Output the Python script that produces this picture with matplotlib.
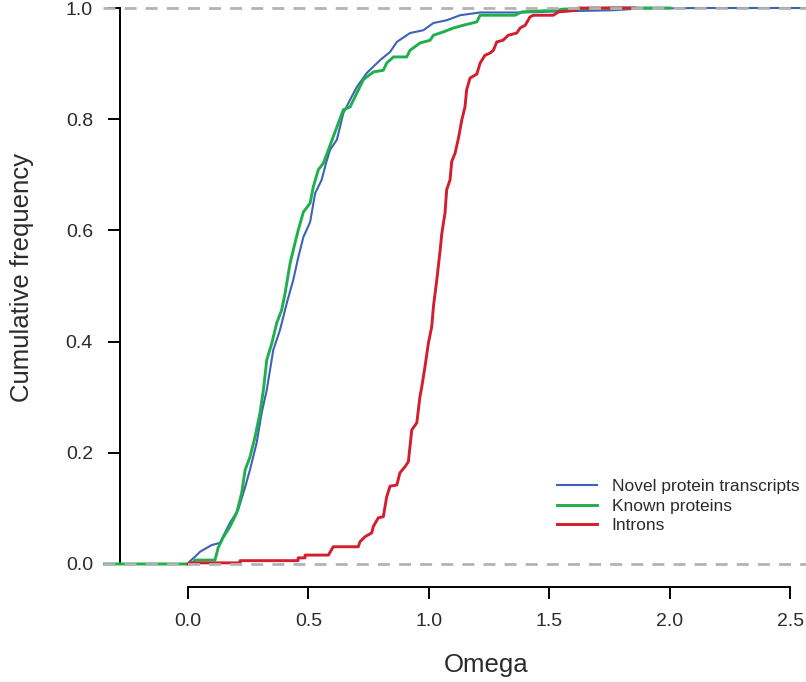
import matplotlib

matplotlib.use("Agg")

import matplotlib.pyplot as plt

plt.rcParams["font.family"] = ["Liberation Sans", "DejaVu Sans"]

# cumulative frequency curves of omega, (omega, fraction) knots along each curve
novel_omega = [-0.36, 0.0, 0.008, 0.029, 0.050, 0.098, 0.133, 0.145, 0.174, 0.208, 0.237,
               0.257, 0.285, 0.306, 0.327, 0.354, 0.382, 0.410, 0.437, 0.458, 0.479,
               0.507, 0.528, 0.555, 0.573, 0.590, 0.618, 0.645, 0.673, 0.701, 0.742,
               0.797, 0.839, 0.867, 0.922, 0.977, 1.019, 1.074, 1.130, 1.213, 1.391,
               1.545, 1.765, 1.877, 2.126, 2.60]
novel_freq = [0.0, 0.0, 0.005, 0.013, 0.022, 0.034, 0.038, 0.049, 0.074, 0.097, 0.138,
              0.169, 0.218, 0.272, 0.313, 0.385, 0.421, 0.469, 0.511, 0.552, 0.588,
              0.615, 0.667, 0.691, 0.721, 0.745, 0.763, 0.811, 0.835, 0.858, 0.883,
              0.906, 0.921, 0.939, 0.955, 0.960, 0.973, 0.978, 0.987, 0.992, 0.992,
              0.994, 0.996, 0.999, 1.0, 1.0]

known_omega = [-0.36, 0.0, 0.021, 0.029, 0.112, 0.125, 0.145, 0.174, 0.202, 0.223, 0.237,
               0.257, 0.278, 0.299, 0.313, 0.327, 0.348, 0.368, 0.389, 0.403, 0.424,
               0.444, 0.458, 0.479, 0.507, 0.520, 0.541, 0.562, 0.583, 0.618, 0.645,
               0.673, 0.701, 0.728, 0.742, 0.770, 0.811, 0.825, 0.853, 0.908, 0.922,
               0.963, 1.005, 1.019, 1.060, 1.102, 1.143, 1.199, 1.213, 1.358, 1.386,
               1.531, 1.557, 1.794, 2.00]
known_freq = [0.0, 0.0, 0.002, 0.007, 0.007, 0.029, 0.047, 0.067, 0.092, 0.128, 0.169,
              0.192, 0.228, 0.272, 0.313, 0.367, 0.397, 0.433, 0.457, 0.487, 0.541,
              0.577, 0.601, 0.633, 0.649, 0.678, 0.709, 0.721, 0.745, 0.786, 0.817,
              0.822, 0.847, 0.871, 0.876, 0.885, 0.888, 0.901, 0.912, 0.912, 0.924,
              0.937, 0.942, 0.951, 0.957, 0.964, 0.969, 0.975, 0.987, 0.987, 0.993,
              0.996, 0.998, 1.0, 1.0]

intron_omega = [0.0, 0.008, 0.008, 0.216, 0.216, 0.457, 0.457, 0.486, 0.486, 0.583, 0.603,
                0.707, 0.714, 0.735, 0.763, 0.769, 0.790, 0.811, 0.825, 0.839, 0.867,
                0.880, 0.901, 0.915, 0.929, 0.950, 0.963, 0.970, 0.984, 0.998, 1.012,
                1.019, 1.033, 1.047, 1.054, 1.067, 1.074, 1.088, 1.095, 1.109, 1.123,
                1.137, 1.150, 1.157, 1.171, 1.199, 1.213, 1.233, 1.254, 1.268, 1.282,
                1.308, 1.330, 1.365, 1.379, 1.400, 1.420, 1.434, 1.517, 1.538, 1.614,
                1.621, 1.856]
intron_freq = [0.0, 0.0, 0.002, 0.002, 0.006, 0.006, 0.011, 0.011, 0.016, 0.016, 0.031,
               0.031, 0.040, 0.049, 0.056, 0.067, 0.083, 0.085, 0.121, 0.140, 0.142,
               0.164, 0.175, 0.184, 0.241, 0.254, 0.301, 0.317, 0.355, 0.397, 0.427,
               0.463, 0.511, 0.565, 0.595, 0.631, 0.673, 0.691, 0.724, 0.739, 0.766,
               0.799, 0.822, 0.853, 0.874, 0.881, 0.901, 0.915, 0.919, 0.924, 0.939,
               0.942, 0.951, 0.955, 0.964, 0.969, 0.984, 0.987, 0.987, 0.993, 0.996,
               1.0, 1.0]

series_labels = ["Novel protein transcripts", "Known proteins", "Introns"]
x_ticks = [0.0, 0.5, 1.0, 1.5, 2.0, 2.5]
y_ticks = [0.0, 0.2, 0.4, 0.6, 0.8, 1.0]

BLUE = "#3d62b6"
GREEN = "#1fb04b"
RED = "#d11f2d"
GREY = "#b3b3b3"
TEXT = "#2b2b2b"

W, H = 806, 682
fig = plt.figure(figsize=(W / 100, H / 100), dpi=100)
ax = fig.add_axes([103 / W, (H - 587) / H, 703 / W, 587 / H])
ax.set_xlim(-0.353, 2.566)
ax.set_ylim(-0.0414, 1.0144)

ax.plot(novel_omega, novel_freq, color=BLUE, lw=1.5, label=series_labels[0], zorder=3)
ax.plot(known_omega, known_freq, color=GREEN, lw=2.1, label=series_labels[1], zorder=4)
ax.plot(intron_omega, intron_freq, color=RED, lw=2.1, label=series_labels[2], zorder=5)

for level in (0.0, 1.0):
    ax.axhline(level, color=GREY, lw=2.0, dashes=(4.3, 3.3), zorder=6, clip_on=False)

for side in ("top", "right"):
    ax.spines[side].set_visible(False)
ax.spines["left"].set_position(("data", -0.282))
ax.spines["left"].set_bounds(0, 1)
ax.spines["bottom"].set_bounds(0, 2.5)
for side in ("left", "bottom"):
    ax.spines[side].set_linewidth(1.4)

ax.set_xticks(x_ticks)
ax.set_xticklabels([f"{v:.1f}" for v in x_ticks])
ax.set_yticks(y_ticks)
ax.set_yticklabels([f"{v:.1f}" for v in y_ticks])
ax.tick_params(axis="both", direction="out", length=8.6, width=1.4, labelsize=14,
               labelcolor=TEXT)
ax.tick_params(axis="y", pad=11)
ax.tick_params(axis="x", pad=10)

fig.text(486 / W, 1 - 665 / H, "Omega", fontsize=18.5, color=TEXT, ha="center", va="center")
fig.text(22 / W, 1 - 277 / H, "Cumulative frequency", fontsize=18.5, color=TEXT,
         rotation=90, ha="center", va="center")

ax.legend(loc="upper left", bbox_to_anchor=(557 / W, 1 - 479 / H), bbox_transform=fig.transFigure,
          frameon=False, fontsize=12.5, handlelength=2.3, handletextpad=0.85,
          labelspacing=0.25, borderpad=0, borderaxespad=0, labelcolor=TEXT)

fig.savefig("out.png", dpi=100)
